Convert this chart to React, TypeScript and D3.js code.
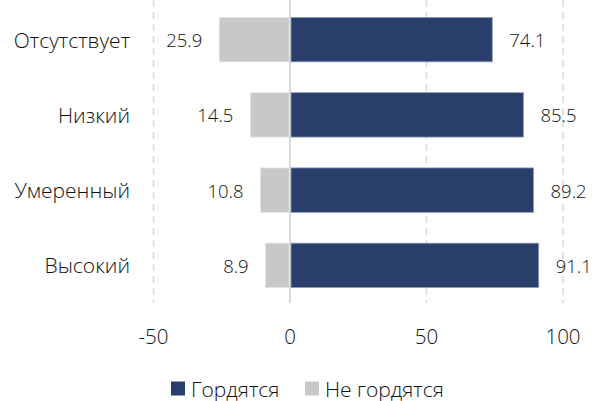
import React from "react";
import * as d3 from "d3";

const categories = ["Отсутствует", "Низкий", "Умеренный", "Высокий"];
const proud = [74.1, 85.5, 89.2, 91.1];
const notProud = [25.9, 14.5, 10.8, 8.9];
const ticks = [-50, 0, 50, 100];
const seriesNames = ["Гордятся", "Не гордятся"];

const width = 598;
const height = 401;
const navy = "#2a3e6c";
const gray = "#c8c9c7";
const font = "'Open Sans', sans-serif";
const textColor = "#111111";

export default function App() {
  const x = d3.scaleLinear().domain([-50, 100]).range([153.5, 563]);
  const y = d3
    .scaleBand<string>()
    .domain(categories)
    .range([2, 303])
    .paddingInner(0.41)
    .paddingOuter(0.205);
  const bw = y.bandwidth();

  return (
    <svg
      width={width}
      height={height}
      style={{ position: "absolute", left: 0, top: 0, fontFamily: font, fontWeight: 300 }}
    >
      {/* grid */}
      {ticks.map((t) => (
        <line
          key={t}
          x1={x(t)}
          x2={x(t)}
          y1={0}
          y2={303}
          stroke="#d9d9d9"
          strokeWidth={t === 0 ? 2 : 1.5}
          strokeDasharray={t === 0 ? undefined : "7,5"}
        />
      ))}

      {categories.map((c, i) => {
        const y0 = y(c)!;
        const cy = y0 + bw / 2;
        return (
          <g key={c}>
            <rect
              x={x(-notProud[i])}
              y={y0}
              width={x(0) - 1 - x(-notProud[i])}
              height={bw}
              fill={gray}
              stroke="#e4e4e2"
              strokeWidth={0.8}
            />
            <rect
              x={x(0) + 1}
              y={y0}
              width={x(proud[i]) - x(0) - 1}
              height={bw}
              fill={navy}
              stroke="#8d9cbc"
              strokeWidth={0.8}
            />
            <text
              x={130}
              y={cy}
              textAnchor="end"
              dominantBaseline="central"
              fontSize={21}
              fill={textColor}
            >
              {c}
            </text>
            <text
              x={x(-notProud[i]) - 17}
              y={cy}
              textAnchor="end"
              dominantBaseline="central"
              fontSize={18.5}
              fill={textColor}
            >
              {notProud[i].toFixed(1)}
            </text>
            <text
              x={x(proud[i]) + 17}
              y={cy}
              textAnchor="start"
              dominantBaseline="central"
              fontSize={18.5}
              fill={textColor}
            >
              {proud[i].toFixed(1)}
            </text>
          </g>
        );
      })}

      {/* x tick labels */}
      {ticks.map((t) => (
        <text
          key={t}
          x={x(t)}
          y={336}
          textAnchor="middle"
          dominantBaseline="central"
          fontSize={20.5}
          fill={textColor}
        >
          {t}
        </text>
      ))}

      {/* legend */}
      <g>
        <rect x={171} y={381.5} width={14} height={14} fill={navy} />
        <text x={191} y={388.5} dominantBaseline="central" fontSize={21} fill={textColor}>
          {seriesNames[0]}
        </text>
        <rect x={305} y={381.5} width={14} height={14} fill={gray} />
        <text x={325} y={388.5} dominantBaseline="central" fontSize={21} fill={textColor}>
          {seriesNames[1]}
        </text>
      </g>
    </svg>
  );
}
